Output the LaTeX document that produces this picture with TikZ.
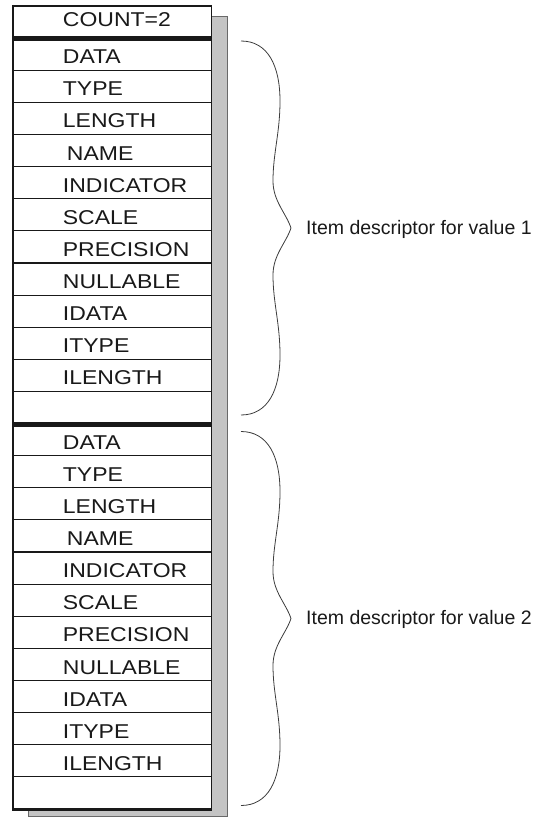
\documentclass[tikz,border=0pt]{standalone}
\usepackage{fontspec}
\setmainfont{Liberation Sans}
\definecolor{shad}{RGB}{196,196,196}
\definecolor{shadedge}{RGB}{105,105,105}
\definecolor{ink}{RGB}{25,25,25}
\begin{document}
\begin{tikzpicture}[x=1pt,y=-1pt,
  cell/.style={anchor=base west, inner sep=0pt, text=ink, font=\fontsize{20}{24}\selectfont},
  side/.style={anchor=base west, inner sep=0pt, text=ink, font=\fontsize{19.5}{23}\selectfont},
  rowline/.style={draw=ink, line width=1.1pt},
  bracestyle/.style={draw=ink!85, line width=0.8pt},
  itembrace/.pic={
    \draw[bracestyle] (0,0) .. controls (27,0) and (39,25) .. (39,60)
      .. controls (39,92) and (32,112) .. (32,140)
      .. controls (32,160) and (45,172) .. (50,187)
      .. controls (45,202) and (32,214) .. (32,234)
      .. controls (32,262) and (39,282) .. (39,314)
      .. controls (39,349) and (27,374) .. (0,374);
  }]
\useasboundingbox (0,0) rectangle (532,818);
% shadow
\draw[fill=shad, draw=shadedge, line width=0.8pt] (28,16) rectangle (227,816.6);
% table body
\fill[white] (13,6) rectangle (211.5,809);
\foreach \k in {2,...,12,14,15,...,24}
  \draw[rowline] (12.3,{6+\k*32.12}) -- (212.2,{6+\k*32.12});
\draw[ink, line width=1.4pt] (13,5) -- (13,810);
\draw[ink, line width=1.4pt] (211.5,5) -- (211.5,810);
\draw[ink, line width=2.2pt] (12.3,6) -- (212.2,6);
\draw[ink, line width=5pt] (12.3,38.6) -- (212.2,38.6);
\draw[ink, line width=5.5pt] (12.3,424.6) -- (212.2,424.6);
\draw[ink, line width=3pt] (12.3,809) -- (212.2,809);
% texts
\node[cell] (count) at (62.7,27) {\scalebox{1.15}[1]{COUNT=2}};
\foreach \t/\dx [count=\i] in {DATA/0,TYPE/0,LENGTH/0,NAME/4,INDICATOR/0,SCALE/0,PRECISION/0,NULLABLE/0,IDATA/0,ITYPE/0,ILENGTH/0}{
  \node[cell] (a\i) at ({62.7+\dx},{6+(\i+1)*32.12-6.5}) {\scalebox{1.15}[1]{\t}};
  \node[cell] (b\i) at ({62.7+\dx},{6+(\i+13)*32.12-6.5}) {\scalebox{1.15}[1]{\t}};
}
% braces
\pic at (241,41) {itembrace};
\pic at (241,431.5) {itembrace};
\coordinate (tip1) at (291,228);
\coordinate (tip2) at (291,618.5);
\node[side] (lab1) at ([xshift=15pt,yshift=-6pt]tip1) {Item descriptor for value 1};
\node[side] (lab2) at ([xshift=15pt,yshift=-6pt]tip2) {Item descriptor for value 2};
\end{tikzpicture}
\end{document}
